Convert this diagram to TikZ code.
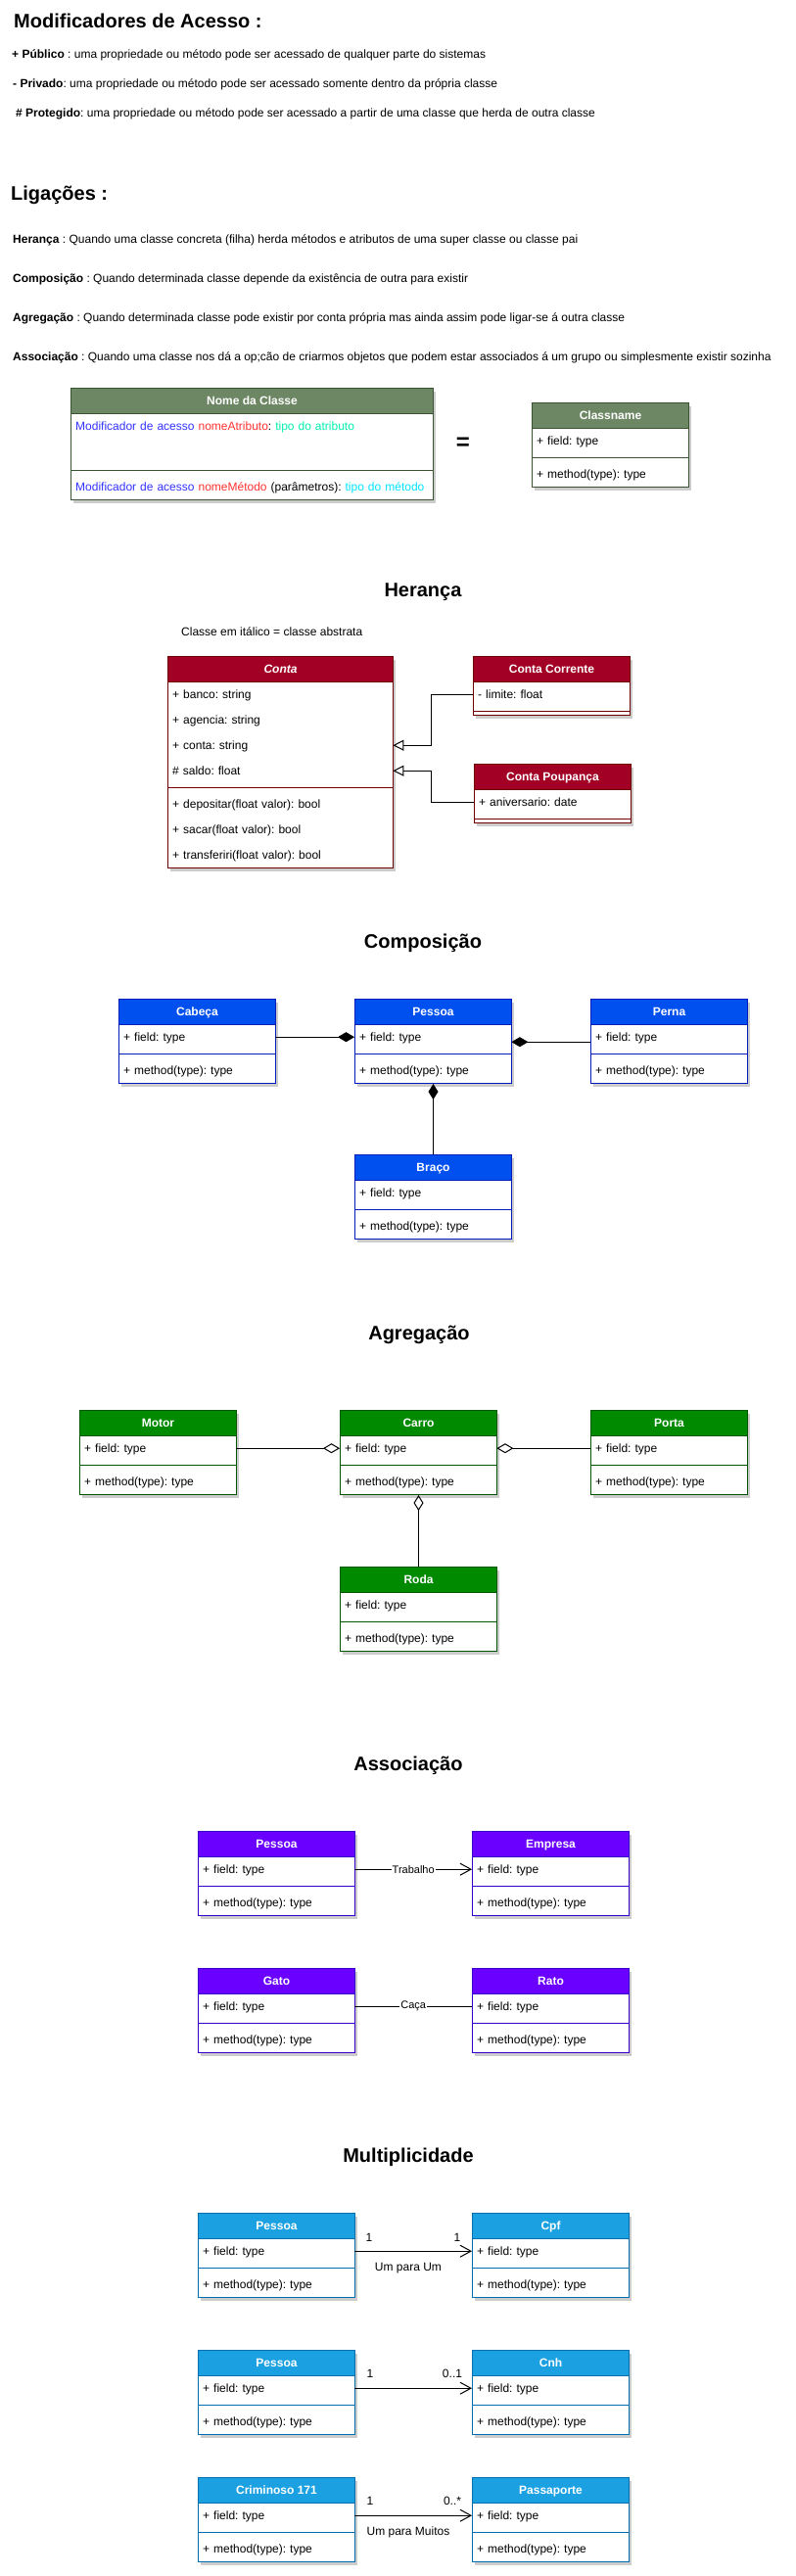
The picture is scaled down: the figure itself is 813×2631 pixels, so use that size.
\documentclass[tikz,border=0pt]{standalone}
\usepackage{fontspec}
\setmainfont{Liberation Sans}
\usetikzlibrary{arrows.meta,shadows}
\frenchspacing

\definecolor{hgreen}{HTML}{6D8764}\definecolor{sgreen}{HTML}{3A5431}
\definecolor{hred}{HTML}{A20025}\definecolor{sred}{HTML}{6F0000}
\definecolor{hblue}{HTML}{0050EF}\definecolor{sblue}{HTML}{001DBC}
\definecolor{hgreenb}{HTML}{008A00}\definecolor{sgreenb}{HTML}{005700}
\definecolor{hviolet}{HTML}{6A00FF}\definecolor{sviolet}{HTML}{3700CC}
\definecolor{hcyan}{HTML}{1BA1E2}\definecolor{scyan}{HTML}{006EAF}
\definecolor{modblue}{HTML}{3333FF}\definecolor{namered}{HTML}{FF3333}
\definecolor{typemint}{HTML}{00F0B0}\definecolor{typecyan}{HTML}{00E5FF}

\newcommand\fsz[1]{\fontsize{#1}{#1}\selectfont\frenchspacing}

\tikzset{
  classframe/.style={draw, fill=white, line width=1pt, inner sep=0pt, anchor=north west,
    drop shadow={shadow xshift=2pt, shadow yshift=-3pt, opacity=0.2, fill=black}},
  hdr/.style={draw, line width=1pt, inner sep=0pt, minimum height=26pt, text=white,
    font=\fsz{12}\bfseries, text height=8.6pt, text depth=0pt, anchor=north west},
  rowbox/.style={inner xsep=5pt, inner ysep=0pt, minimum height=26pt, text width=#1,
    align=left, text height=8.6pt, text depth=0pt, font=\fsz{12}, anchor=north west},
  rowbox/.default=150pt,
  ttl/.style={font=\fsz{20}\bfseries, inner sep=0pt, anchor=base},
  plaintext/.style={font=\fsz{12}, inner sep=0pt, anchor=base west},
  lbl/.style={font=\fsz{11}, fill=white, inner sep=1pt},
  mult/.style={font=\fsz{12}, inner sep=0pt, anchor=base},
  conn/.style={line width=1pt, draw=black},
  sep/.style={line width=1pt}
}

% standard class: name, x, y, title, fill, stroke
\newcommand\stdclass[6]{%
  \node[classframe, draw=#6, minimum width=160pt, minimum height=86pt] (#1) at (#2,#3) {};
  \node[hdr, fill=#5, draw=#6, minimum width=160pt] (#1-h) at (#2,#3) {#4};
  \node[rowbox] (#1-f) at (#2,#3+26) {+ field: type};
  \draw[sep, draw=#6] (#2,#3+56) -- ++(160,0);
  \node[rowbox] (#1-m) at (#2,#3+60) {+ method(type): type};
}

\begin{document}
\begin{tikzpicture}[x=1pt, y=-1pt]
\useasboundingbox (0,0) rectangle (813,2631);
\fill[white] (0,0) rectangle (813,2631);

% ---------- Modificadores ----------
\node[ttl, anchor=base west] (t1) at (14,29) {Modificadores de Acesso :};
\node[plaintext] (p1) at (12,59.3) {\textbf{+ Público} : uma propriedade ou método pode ser acessado de qualquer parte do sistemas};
\node[plaintext] (p2) at (13,89.3) {\textbf{- Privado}: uma propriedade ou método pode ser acessado somente dentro da própria classe};
\node[plaintext] (p3) at (16,119.3) {\textbf{\# Protegido}: uma propriedade ou método pode ser acessado a partir de uma classe que herda de outra classe};

% ---------- Ligações ----------
\node[ttl, anchor=base west] (t2) at (11,204) {Ligações :};
\node[plaintext] (l1) at (13,248) {\textbf{Herança} : Quando uma classe concreta (filha) herda métodos e atributos de uma super classe ou classe pai};
\node[plaintext] (l2) at (13,288) {\textbf{Composição} : Quando determinada classe depende da existência de outra para existir};
\node[plaintext] (l3) at (13,328) {\textbf{Agregação} : Quando determinada classe pode existir por conta própria mas ainda assim pode ligar-se á outra classe};
\node[plaintext] (l4) at (13,368) {\textbf{Associação} : Quando uma classe nos dá a op;cão de criarmos objetos que podem estar associados á um grupo ou simplesmente existir sozinha};

% Nome da Classe
\node[classframe, draw=sgreen, minimum width=370pt, minimum height=114pt] (nome) at (72,396) {};
\node[hdr, fill=hgreen, draw=sgreen, minimum width=370pt] (nome-h) at (72,396) {Nome da Classe};
\node[rowbox=360pt] (nome-f) at (72,422) {\textcolor{modblue}{Modificador de acesso} \textcolor{namered}{nomeAtributo}: \textcolor{typemint}{tipo do atributo}};
\draw[sep, draw=sgreen] (72,480) -- ++(370,0);
\node[rowbox=360pt] (nome-m) at (72,484) {\textcolor{modblue}{Modificador de acesso} \textcolor{namered}{nomeMétodo} (parâmetros): \textcolor{typecyan}{tipo do método}};
\node[font=\fsz{24}\bfseries, inner sep=0pt] (eq) at (473,453) {=};
\stdclass{cls}{543}{411}{Classname}{hgreen}{sgreen}

% ---------- Herança ----------
\node[ttl] (th) at (432,609) {Herança};
\node[plaintext] (abs) at (185,649) {Classe em itálico = classe abstrata};

\node[classframe, draw=sred, minimum width=230pt, minimum height=216pt] (conta) at (171,670) {};
\node[hdr, fill=hred, draw=sred, minimum width=230pt, font=\fsz{12}\bfseries\itshape] (conta-h) at (171,670) {Conta};
\node[rowbox=220pt] (conta-f1) at (171,696) {+ banco: string};
\node[rowbox=220pt] (conta-f2) at (171,722) {+ agencia: string};
\node[rowbox=220pt] (conta-f3) at (171,748) {+ conta: string};
\node[rowbox=220pt] (conta-f4) at (171,774) {\# saldo: float};
\draw[sep, draw=sred] (171,804) -- ++(230,0);
\node[rowbox=220pt] (conta-m1) at (171,808) {+ depositar(float valor): bool};
\node[rowbox=220pt] (conta-m2) at (171,834) {+ sacar(float valor): bool};
\node[rowbox=220pt] (conta-m3) at (171,860) {+ transferiri(float valor): bool};

\node[classframe, draw=sred, minimum width=160pt, minimum height=60pt] (cc) at (483,670) {};
\node[hdr, fill=hred, draw=sred, minimum width=160pt] (cc-h) at (483,670) {Conta Corrente};
\node[rowbox] (cc-f) at (483,696) {- limite: float};
\draw[sep, draw=sred] (483,726) -- ++(160,0);

\node[classframe, draw=sred, minimum width=160pt, minimum height=60pt] (cp) at (484,780) {};
\node[hdr, fill=hred, draw=sred, minimum width=160pt] (cp-h) at (484,780) {Conta Poupança};
\node[rowbox] (cp-f) at (484,806) {+ aniversario: date};
\draw[sep, draw=sred] (484,836) -- ++(160,0);

\draw[conn, -{Triangle[open, length=11pt, width=11pt]}] (cc-f.west) -- ++(-43,0) |- (conta-f3.east);
\draw[conn, -{Triangle[open, length=11pt, width=11pt]}] (cp-f.west) -- ++(-44,0) |- (conta-f4.east);

% ---------- Composição ----------
\node[ttl] (tc) at (432,968) {Composição};
\stdclass{cabeca}{121}{1020}{Cabeça}{hblue}{sblue}
\stdclass{pessoaa}{362}{1020}{Pessoa}{hblue}{sblue}
\stdclass{perna}{603}{1020}{Perna}{hblue}{sblue}
\stdclass{braco}{362}{1179}{Braço}{hblue}{sblue}
\draw[conn, -{Diamond[length=17pt, width=10pt]}] (cabeca-f.east) -- (pessoaa-f.west);
\draw[conn, -{Diamond[length=17pt, width=10pt]}] ([yshift=-5pt]perna-f.west) -- ([yshift=-5pt]pessoaa-f.east);
\draw[conn, -{Diamond[length=16pt, width=10pt]}] (braco-h.north) -- (pessoaa.south);

% ---------- Agregação ----------
\node[ttl] (ta) at (428,1368) {Agregação};
\stdclass{motor}{81}{1440}{Motor}{hgreenb}{sgreenb}
\stdclass{carro}{347}{1440}{Carro}{hgreenb}{sgreenb}
\stdclass{porta}{603}{1440}{Porta}{hgreenb}{sgreenb}
\stdclass{roda}{347}{1600}{Roda}{hgreenb}{sgreenb}
\draw[conn, -{Diamond[open, length=17pt, width=10pt]}] (motor-f.east) -- (carro-f.west);
\draw[conn, -{Diamond[open, length=17pt, width=10pt]}] (porta-f.west) -- (carro-f.east);
\draw[conn, -{Diamond[open, length=16pt, width=10pt]}] (roda-h.north) -- (carro.south);

% ---------- Associação ----------
\node[ttl] (ts) at (417,1808) {Associação};
\stdclass{pessoab}{202}{1870}{Pessoa}{hviolet}{sviolet}
\stdclass{empresa}{482}{1870}{Empresa}{hviolet}{sviolet}
\stdclass{gato}{202}{2010}{Gato}{hviolet}{sviolet}
\stdclass{rato}{482}{2010}{Rato}{hviolet}{sviolet}
\draw[conn, -{Straight Barb[length=11pt, width=12pt]}] (pessoab-f.east) -- node[lbl] (lt) {Trabalho} (empresa-f.west);
\draw[conn] (gato-f.east) -- node[lbl] (lc) {Caça} (rato-f.west);

% ---------- Multiplicidade ----------
\node[ttl] (tm) at (417,2208) {Multiplicidade};
\stdclass{pessoac}{202}{2260}{Pessoa}{hcyan}{scyan}
\stdclass{cpf}{482}{2260}{Cpf}{hcyan}{scyan}
\stdclass{pessoad}{202}{2400}{Pessoa}{hcyan}{scyan}
\stdclass{cnh}{482}{2400}{Cnh}{hcyan}{scyan}
\stdclass{crim}{202}{2530}{Criminoso 171}{hcyan}{scyan}
\stdclass{pass}{482}{2530}{Passaporte}{hcyan}{scyan}
\draw[conn, -{Straight Barb[length=11pt, width=12pt]}] (pessoac-f.east) -- (cpf-f.west);
\draw[conn, -{Straight Barb[length=11pt, width=12pt]}] (pessoad-f.east) -- (cnh-f.west);
\draw[conn, -{Straight Barb[length=11pt, width=12pt]}] (crim-f.east) -- (pass-f.west);
\node[mult] (m1a) at (377,2289.3) {1};
\node[mult] (m1b) at (467,2289.3) {1};
\node[mult] (m1c) at (417,2319.3) {Um para Um};
\node[mult] (m2a) at (378,2428.3) {1};
\node[mult] (m2b) at (462,2428.3) {0..1};
\node[mult] (m3a) at (378,2558.3) {1};
\node[mult] (m3b) at (462,2558.3) {0..*};
\node[mult] (m3c) at (417,2589.3) {Um para Muitos};
\end{tikzpicture}
\end{document}
